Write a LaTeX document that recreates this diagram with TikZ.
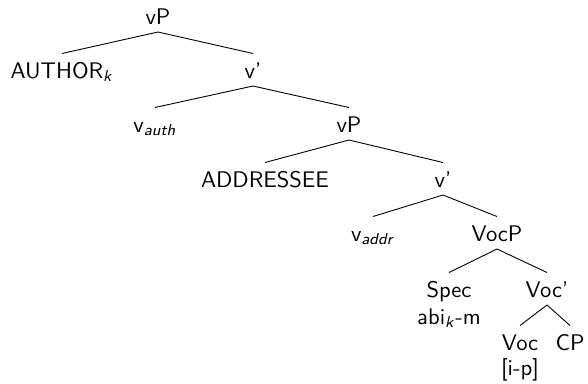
\documentclass[tikz,border=0pt]{standalone}
\renewcommand{\familydefault}{\sfdefault}
\begin{document}
\begin{tikzpicture}[x=1pt,y=-1pt,
  lbl/.style={font=\fontsize{10}{12}\selectfont\sffamily, inner sep=0pt, anchor=base, scale=2.26, transform shape},
  branch/.style={line width=0.9pt}]
\useasboundingbox (0,0) rectangle (588,383);
% nodes
\node[lbl] (vP) at (158,24) {vP};
\node[lbl] (author) at (62,78) {AUTHOR\textsubscript{\textit{k}}};
\node[lbl] (vbar) at (253,78) {v'};
\node[lbl] (vauth) at (155,132) {v\textsubscript{\textit{auth}}};
\node[lbl] (vPb) at (349,132) {vP};
\node[lbl] (addr) at (265,187) {ADDRESSEE};
\node[lbl] (vbarb) at (443,187) {v'};
\node[lbl] (vaddr) at (373,241) {v\textsubscript{\textit{addr}}};
\node[lbl] (VocP) at (497,241) {VocP};
\node[lbl] (spec) at (449,297) {Spec};
\node[lbl] (abi) at (449,324) {abi\textsubscript{\textit{k}}-m};
\node[lbl] (vocbar) at (547,297) {Voc'};
\node[lbl] (voc) at (520,350) {Voc};
\node[lbl] (ip) at (520,375) {[i-p]};
\node[lbl] (cp) at (570,350) {CP};
% branches
\foreach \p/\c in {vP/author, vP/vbar, vbar/vauth, vbar/vPb, vPb/addr, vPb/vbarb,
                   vbarb/vaddr, vbarb/VocP, VocP/spec, VocP/vocbar, vocbar/voc, vocbar/cp}
  \draw[branch] ([yshift=-8pt]\p.base) -- ([yshift=24.5pt]\c.base);
\end{tikzpicture}
\end{document}
